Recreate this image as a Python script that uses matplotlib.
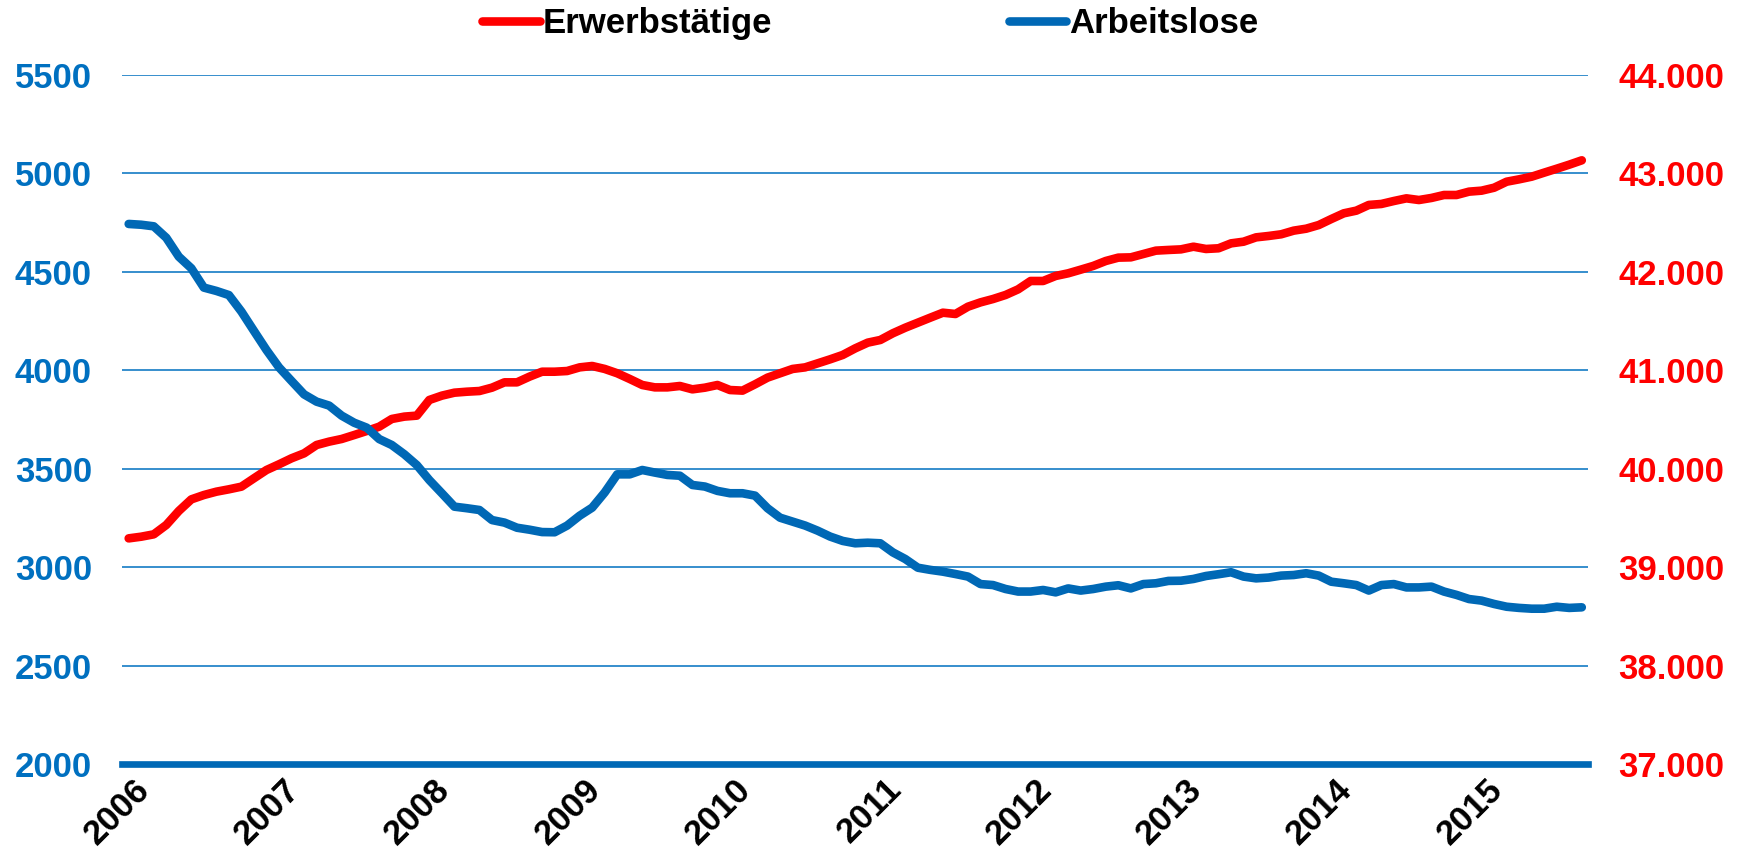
import numpy as np
import matplotlib
matplotlib.use("Agg")
import matplotlib.pyplot as plt
from matplotlib.ticker import FuncFormatter
import matplotlib.transforms as mtransforms

# Monatswerte Jan 2006 - Sep 2015 (in Tausend)
jahre = ["2006", "2007", "2008", "2009", "2010", "2011", "2012", "2013", "2014", "2015"]

arbeitslose = [
    4743, 4739, 4731, 4673, 4577, 4518, 4420, 4403, 4382, 4298, 4200, 4103,
    4015, 3946, 3878, 3841, 3821, 3770, 3734, 3709, 3651, 3621, 3574, 3519,
    3443, 3376, 3308, 3300, 3291, 3240, 3227, 3201, 3191, 3179, 3178, 3212,
    3262, 3303, 3380, 3472, 3472, 3494, 3481, 3469, 3465, 3418, 3410, 3388,
    3376, 3376, 3364, 3300, 3252, 3232, 3212, 3186, 3156, 3134, 3122, 3125,
    3122, 3076, 3042, 2998, 2987, 2978, 2966, 2953, 2915, 2910, 2890, 2877,
    2877, 2885, 2873, 2893, 2882, 2890, 2902, 2909, 2893, 2915, 2919, 2931,
    2932, 2941, 2956, 2965, 2975, 2953, 2944, 2948, 2958, 2961, 2970, 2958,
    2927, 2919, 2910, 2882, 2910, 2915, 2898, 2898, 2902, 2877, 2860, 2839,
    2831, 2814, 2800, 2794, 2790, 2790, 2800, 2794, 2797,
]

erwerbstaetige = [
    39294, 39311, 39335, 39430, 39572, 39690, 39734, 39768, 39792, 39819, 39904, 39988,
    40046, 40107, 40157, 40242, 40276, 40303, 40343, 40384, 40428, 40506, 40530, 40540,
    40699, 40743, 40773, 40783, 40790, 40824, 40878, 40878, 40936, 40986, 40986, 40993,
    41030, 41044, 41014, 40970, 40912, 40851, 40827, 40827, 40841, 40807, 40824, 40851,
    40800, 40794, 40858, 40926, 40970, 41014, 41030, 41071, 41112, 41156, 41223, 41281,
    41308, 41376, 41433, 41484, 41535, 41585, 41572, 41646, 41690, 41724, 41765, 41822,
    41907, 41907, 41958, 41985, 42022, 42060, 42110, 42144, 42147, 42181, 42215, 42222,
    42228, 42255, 42232, 42239, 42289, 42306, 42350, 42364, 42381, 42418, 42438, 42475,
    42536, 42594, 42621, 42679, 42689, 42719, 42746, 42729, 42750, 42780, 42780, 42814,
    42824, 42854, 42915, 42939, 42966, 43007, 43047, 43088, 43132,
]

BLAU = "#0068B5"
GITTER = "#0070C0"
ROT = "#FF0000"

plt.rcParams["font.family"] = "Liberation Sans"
plt.rcParams["font.weight"] = "bold"

x = np.arange(len(arbeitslose))

fig = plt.figure(figsize=(17.39, 8.66), dpi=100)
ax_r = fig.add_axes([0.0704, 0.1174, 0.8428, 0.7962])  # rechte Achse (unten liegend)
ax_l = ax_r.twinx()                                     # linke Achse (oben liegend)

# Erwerbstätige auf der rechten Achse
linie_rot, = ax_r.plot(x, erwerbstaetige, color=ROT, lw=6.2, solid_capstyle="round",
                       solid_joinstyle="round", label="Erwerbstätige", zorder=3)
ax_r.set_ylim(37000, 44000)
ax_r.set_yticks(np.arange(37000, 44001, 1000))
ax_r.yaxis.set_major_formatter(FuncFormatter(lambda v, p: f"{int(v):,}".replace(",", ".")))
ax_r.yaxis.tick_right()
ax_r.tick_params(axis="y", length=0, pad=22, labelsize=25, labelcolor=ROT)
for y in range(38000, 44001, 1000):
    ax_r.axhline(y, color=GITTER, lw=1.1, zorder=1)

# Arbeitslose auf der linken Achse
linie_blau, = ax_l.plot(x, arbeitslose, color=BLAU, lw=6.2, solid_capstyle="round",
                        solid_joinstyle="round", label="Arbeitslose", zorder=3)
ax_l.set_ylim(2000, 5500)
ax_l.set_yticks(np.arange(2000, 5501, 500))
ax_l.yaxis.tick_left()
ax_l.tick_params(axis="y", length=0, pad=22, labelsize=25, labelcolor=GITTER)

for a in (ax_r, ax_l):
    a.set_xlim(-0.5, len(x) - 0.5)
    for s in ("top", "left", "right", "bottom"):
        a.spines[s].set_visible(False)
ax_l.spines["bottom"].set_visible(True)
ax_l.spines["bottom"].set_color(BLAU)
ax_l.spines["bottom"].set_linewidth(4.8)

# Jahresbeschriftung schräg
ax_r.set_xticks(np.arange(0, len(x), 12))
ax_r.set_xticklabels(jahre, rotation=45, ha="right", va="top", rotation_mode="anchor")
ax_r.tick_params(axis="x", length=0, pad=6, labelsize=25, labelcolor="black")
ax_l.tick_params(axis="x", length=0, labelbottom=False)
versatz = mtransforms.ScaledTranslation(4 / 100, 0, fig.dpi_scale_trans)
for lbl in ax_r.get_xticklabels():
    lbl.set_transform(lbl.get_transform() + versatz)

fig.legend([linie_rot, linie_blau], ["Erwerbstätige", "Arbeitslose"], loc="center",
           bbox_to_anchor=(0.5006, 0.9723), ncol=2, frameon=False, handlelength=1.65,
           handletextpad=0.1, columnspacing=6.8, prop={"size": 25, "weight": "bold"})

fig.savefig("out.png", dpi=100)
